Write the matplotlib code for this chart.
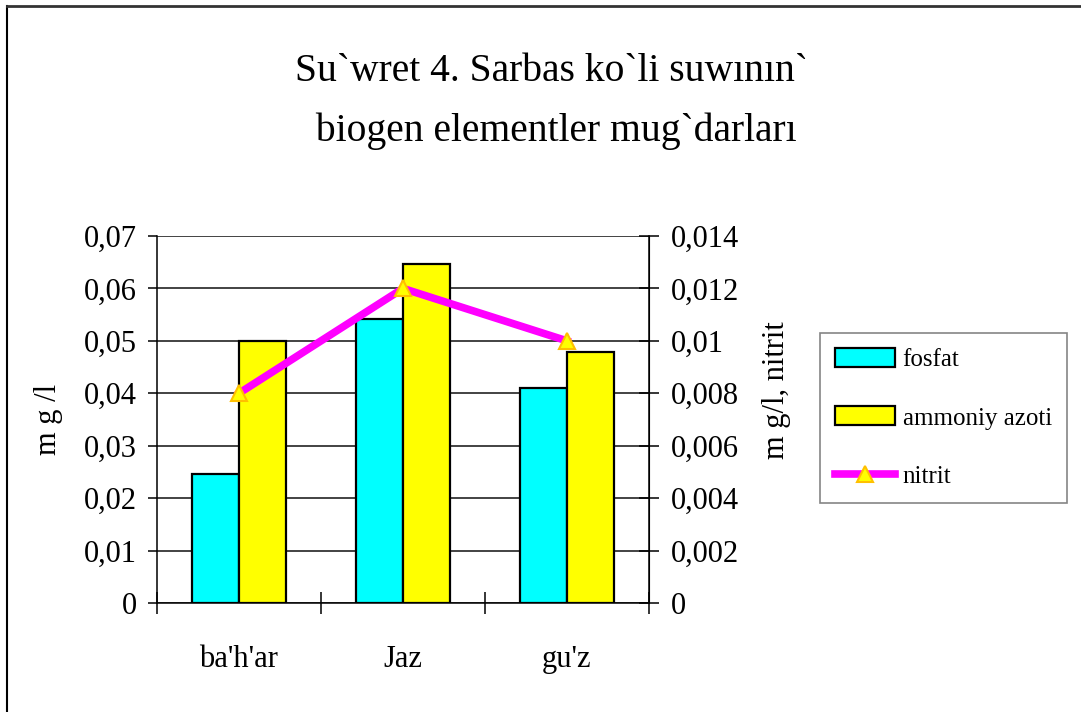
import matplotlib
matplotlib.use("Agg")
import matplotlib.pyplot as plt
from matplotlib.lines import Line2D
from matplotlib.ticker import FixedLocator, FuncFormatter

plt.rcParams['font.family'] = ['Liberation Serif', 'DejaVu Serif']

seasons = ["ba'h'ar", "Jaz", "gu'z"]
fosfat = [0.0246, 0.0542, 0.0410]
ammoniy = [0.0500, 0.0647, 0.0478]
nitrit = [0.008, 0.012, 0.010]

left_ticks = [0, 0.01, 0.02, 0.03, 0.04, 0.05, 0.06, 0.07]
right_ticks = [0, 0.002, 0.004, 0.006, 0.008, 0.01, 0.012, 0.014]


def comma(v, pos=None):
    s = ('%.3f' % v).rstrip('0').rstrip('.')
    return s.replace('.', ',')


fig = plt.figure(figsize=(10.81, 7.12), dpi=100)
ax = fig.add_axes([0.1452, 0.1531, 0.4552, 0.5154])
ax2 = ax.twinx()

x = list(range(len(seasons)))
w = 0.287
ax.bar([i - w / 2 for i in x], fosfat, w, color='#00FFFF', edgecolor='black',
       linewidth=1.6, label='fosfat', zorder=2)
ax.bar([i + w / 2 for i in x], ammoniy, w, color='#FFFF00', edgecolor='black',
       linewidth=1.6, label='ammoniy azoti', zorder=2)
ax2.plot(x, nitrit, color='#FF00FF', linewidth=5.5, marker='^', markersize=11,
         markerfacecolor='#FFFF00', markeredgecolor='#FFC000', markeredgewidth=1.5,
         label='nitrit', zorder=3)

ax.set_xlim(-0.5, 2.5)
ax.set_ylim(0, 0.07)
ax2.set_ylim(0, 0.014)

ax.set_yticks(left_ticks)
ax.yaxis.set_major_formatter(FuncFormatter(comma))
ax2.set_yticks(right_ticks)
ax2.yaxis.set_major_formatter(FuncFormatter(comma))

ax.xaxis.set_major_locator(FixedLocator([-0.5, 0.5, 1.5, 2.5]))
ax.xaxis.set_minor_locator(FixedLocator(x))
ax.set_xticklabels([], minor=False)
ax.set_xticklabels(seasons, minor=True)
ax.tick_params(axis='x', which='major', direction='inout', length=16, width=1.1)
ax.tick_params(axis='x', which='minor', length=0, pad=30, labelsize=22)
ax.tick_params(axis='y', direction='out', length=6.5, width=1.1, pad=8, labelsize=22)
ax2.tick_params(axis='y', direction='inout', length=14, width=1.1, pad=9, labelsize=22)

ax.yaxis.grid(True, color='#222222', linewidth=1.2)
ax.set_axisbelow(True)
for a in (ax, ax2):
    a.spines['top'].set_visible(False)
    a.patch.set_visible(False)
ax2.spines['left'].set_visible(False)
ax2.spines['bottom'].set_visible(False)
for sp in ('left', 'bottom'):
    ax.spines[sp].set_linewidth(1.1)
ax2.spines['right'].set_linewidth(1.1)

ax.set_ylabel('m g /l', fontsize=22)
ax.yaxis.set_label_coords(-0.19, 0.5)
ax2.set_ylabel('m g/l, nitrit', fontsize=22, rotation=90)
ax2.yaxis.set_label_coords(1.23, 0.58)

fig.text(0.51, 0.899, "Su`wret 4. Sarbas ko`li suwının`", ha='center', va='center', fontsize=28.5)
fig.text(0.51, 0.815, " biogen elementler mug`darları", ha='center', va='center', fontsize=28.5)

h1, l1 = ax.get_legend_handles_labels()
h2, l2 = ax2.get_legend_handles_labels()
leg = fig.legend(h1 + h2, l1 + l2, loc='upper left', bbox_to_anchor=(0.7586, 0.5323),
                 fontsize=18, frameon=True, fancybox=False, handlelength=2.4,
                 handleheight=0.8, labelspacing=1.4, handletextpad=0.3,
                 borderpad=0.6, borderaxespad=0)
leg.get_frame().set_edgecolor('#666666')
leg.get_frame().set_linewidth(1.2)

# chart frame (only left and top edges show)
fig.add_artist(Line2D([0.0065, 0.0065], [0, 0.991], color='black', linewidth=1.5))
fig.add_artist(Line2D([0.0065, 1.0], [0.991, 0.991], color='#333333', linewidth=2))

fig.savefig('out.png', dpi=100)
